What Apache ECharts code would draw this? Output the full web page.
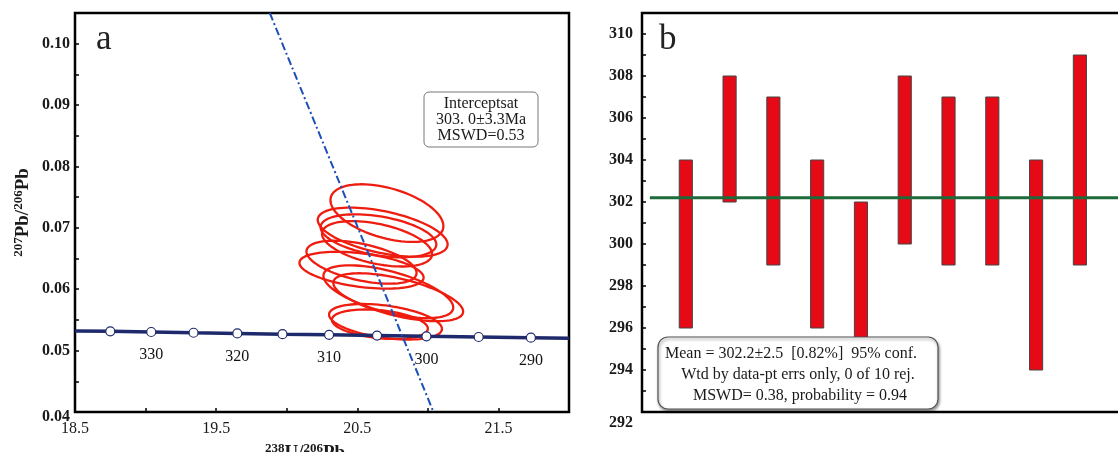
<!DOCTYPE html>
<html>
<head>
<meta charset="utf-8">
<script src="https://cdn.jsdelivr.net/npm/echarts@6/dist/echarts.min.js"></script>
<style>
  html, body { margin: 0; padding: 0; background: #fff; }
  #main { width: 1118px; height: 452px; }
</style>
</head>
<body>
<div id="main"></div>
<script>
// ---- panel a: concordia ----
var concAges = [335, 330, 325, 320, 315, 310, 305, 300, 295, 290];
var concX = [18.75, 19.04, 19.34, 19.65, 19.97, 20.30, 20.64, 20.99, 21.36, 21.73];
var concY = [0.05315, 0.05303, 0.05291, 0.05280, 0.05268, 0.05257, 0.05245, 0.05233, 0.05222, 0.05210];
var concLineX = [18.5].concat(concX, [22.0]);
var concLineY = [0.0532].concat(concY, [0.0520]);

var discX = [19.88, 21.04];
var discY = [0.105, 0.04];

// ellipses: centre, half widths, error correlation
var ellX   = [20.71, 20.68, 20.65, 20.64, 20.53, 20.53, 20.72, 20.79, 20.70, 20.66];
var ellY   = [0.0724, 0.0693, 0.0687, 0.0674, 0.0644, 0.0631, 0.0596, 0.0587, 0.0547, 0.0543];
var ellSx  = [0.40, 0.46, 0.41, 0.39, 0.39, 0.44, 0.46, 0.46, 0.40, 0.34];
var ellSy  = [0.0047, 0.0040, 0.0035, 0.0037, 0.0035, 0.0030, 0.0043, 0.0039, 0.0029, 0.0024];
var ellRho = [-0.45, -0.5, -0.4, -0.45, -0.5, -0.4, -0.6, -0.6, -0.4, -0.3];

// ---- panel b: weighted mean ----
var spotNo = [1, 2, 3, 4, 5, 6, 7, 8, 9, 10];
var ageLow  = [296, 302, 299, 296, 295, 300, 299, 299, 294, 299];
var ageHigh = [304, 308, 307, 304, 302, 308, 307, 307, 304, 309];
var meanAge = 302.2;

var serif = '"Liberation Serif", "Times New Roman", serif';
var txt = '#1a1a1a';

var chart = echarts.init(document.getElementById('main'));

function ellipseItem(params, api) {
  var cx = api.value(0), cy = api.value(1), sx = api.value(2), sy = api.value(3), r = api.value(4);
  var pts = [];
  for (var k = 0; k < 96; k++) {
    var t = k / 96 * Math.PI * 2;
    var x = cx + sx * Math.cos(t);
    var y = cy + sy * (r * Math.cos(t) + Math.sqrt(1 - r * r) * Math.sin(t));
    pts.push(api.coord([x, y]));
  }
  return {
    type: 'polygon',
    shape: { points: pts },
    style: { fill: 'none', stroke: '#ee1d10', lineWidth: 2.3 }
  };
}

function barItem(params, api) {
  var x = api.value(0);
  var top = api.coord([x, api.value(2)]);
  var bot = api.coord([x, api.value(1)]);
  var w = api.size([0.3, 0])[0];
  return {
    type: 'rect',
    shape: { x: top[0] - w / 2, y: top[1], width: w, height: bot[1] - top[1] },
    style: { fill: '#e60a17', stroke: '#444', lineWidth: 1 }
  };
}

var supRich = {
  sup: { fontSize: 13, fontFamily: serif, fontWeight: 'bold', color: txt, verticalAlign: 'top', lineHeight: 14 },
  b: { fontSize: 19, fontFamily: serif, fontWeight: 'bold', color: txt, lineHeight: 22 }
};

chart.setOption({
  animation: false,
  grid: [
    { left: 75, top: 13, width: 494, height: 399, show: true, borderColor: '#000', borderWidth: 2.5, outerBoundsMode: 'none', containLabel: false },
    { left: 642, top: 13, width: 490, height: 399, show: true, borderColor: '#000', borderWidth: 2.5, outerBoundsMode: 'none', containLabel: false }
  ],
  xAxis: [{
    gridIndex: 0, type: 'value', min: 18.5, max: 22, interval: 0.5,
    axisLine: { show: false }, splitLine: { show: false },
    axisTick: { inside: true, length: 4, lineStyle: { color: '#000', width: 1.5 } },
    axisLabel: {
      margin: 9, fontSize: 16, fontFamily: serif, color: txt,
      formatter: function (v) { return Math.round(v * 2) % 2 === 1 ? v.toFixed(1) : ''; }
    },
    name: '{sup|238}{b|U/}{sup|206}{b|Pb}', nameLocation: 'middle', nameGap: 24,
    nameTextStyle: { rich: supRich, padding: [0, 34, 0, 0] }
  }, {
    gridIndex: 1, type: 'value', min: 0, max: 11.19,
    axisLine: { show: false }, axisTick: { show: false }, axisLabel: { show: false }, splitLine: { show: false }
  }],
  yAxis: [{
    gridIndex: 0, type: 'value', min: 0.04, max: 0.105, interval: 0.005,
    axisLine: { show: false }, splitLine: { show: false },
    axisTick: { inside: true, length: 4, lineStyle: { color: '#000', width: 1.5 } },
    axisLabel: {
      margin: 5, fontSize: 16, fontWeight: 'bold', fontFamily: serif, color: txt,
      formatter: function (v) {
        if (Math.round(v * 1000) % 10 !== 0) return '';
        return Math.abs(v - 0.04) < 1e-9 ? '{low|0.04}' : v.toFixed(2);
      },
      rich: { low: { fontSize: 16, fontWeight: 'bold', fontFamily: serif, color: txt, padding: [10, 0, 0, 0] } }
    },
    name: '{sup|207}{b|Pb/}{sup|206}{b|Pb}', nameLocation: 'middle', nameRotate: 90, nameGap: 41,
    nameTextStyle: { rich: supRich }
  }, {
    gridIndex: 1, type: 'value', min: 292, max: 311, interval: 1,
    axisLine: { show: false }, splitLine: { show: false },
    axisTick: { inside: true, length: 4, lineStyle: { color: '#000', width: 1.5 } },
    axisLabel: {
      margin: 9, fontSize: 16, fontWeight: 'bold', fontFamily: serif, color: txt,
      formatter: function (v) {
        if (v % 2 !== 0 || v > 310) return '';
        return v === 292 ? '{low|292}' : String(v);
      },
      rich: { low: { fontSize: 16, fontWeight: 'bold', fontFamily: serif, color: txt, padding: [22, 0, 0, 0] } }
    }
  }],
  series: [{
    type: 'custom', xAxisIndex: 0, yAxisIndex: 0, clip: true, z: 2,
    renderItem: ellipseItem,
    data: ellX.map(function (x, i) { return [x, ellY[i], ellSx[i], ellSy[i], ellRho[i]]; })
  }, {
    type: 'line', xAxisIndex: 0, yAxisIndex: 0, z: 3, symbol: 'none', clip: true,
    lineStyle: { color: '#1f2a6c', width: 3.5 },
    data: concLineX.map(function (x, i) { return [x, concLineY[i]]; })
  }, {
    type: 'scatter', xAxisIndex: 0, yAxisIndex: 0, z: 4, symbol: 'circle', symbolSize: 9,
    itemStyle: { color: '#fff', borderColor: '#1f2a6c', borderWidth: 1.2, opacity: 1 },
    label: {
      show: true, position: 'bottom', distance: 10, fontSize: 16, fontFamily: serif, color: '#111',
      formatter: function (p) { return p.value[2] % 10 === 0 ? String(p.value[2]) : ''; }
    },
    data: concX.map(function (x, i) { return [x, concY[i], concAges[i]]; })
  }, {
    type: 'line', xAxisIndex: 0, yAxisIndex: 0, z: 5, symbol: 'none', clip: true,
    lineStyle: { color: '#1d4fb8', width: 2, type: [8, 3, 2, 3] },
    data: discX.map(function (x, i) { return [x, discY[i]]; })
  }, {
    type: 'custom', xAxisIndex: 1, yAxisIndex: 1, z: 2,
    renderItem: barItem,
    encode: { x: 0, y: [1, 2] },
    data: spotNo.map(function (n, i) { return [n, ageLow[i], ageHigh[i]]; })
  }, {
    type: 'line', xAxisIndex: 1, yAxisIndex: 1, z: 3, symbol: 'none',
    lineStyle: { color: '#1d6a3a', width: 3 },
    data: [[0.18, meanAge], [11.19, meanAge]]
  }],
  graphic: [
    { type: 'text', left: 96, top: 22, z: 10,
      style: { text: 'a', font: '35px ' + serif, fill: '#222' } },
    { type: 'text', left: 659, top: 22, z: 10,
      style: { text: 'b', font: '35px ' + serif, fill: '#222' } },
    { type: 'rect', z: 10, shape: { x: 424, y: 92, width: 114, height: 55, r: 5 },
      style: { fill: '#fff', stroke: '#777', lineWidth: 1 } },
    { type: 'text', z: 11, style: { text: 'Interceptsat', x: 481, y: 104, textAlign: 'center', textVerticalAlign: 'middle', font: '16px ' + serif, fill: txt } },
    { type: 'text', z: 11, style: { text: '303. 0\u00B13.3Ma', x: 481, y: 120, textAlign: 'center', textVerticalAlign: 'middle', font: '16px ' + serif, fill: txt } },
    { type: 'text', z: 11, style: { text: 'MSWD=0.53', x: 481, y: 136, textAlign: 'center', textVerticalAlign: 'middle', font: '16px ' + serif, fill: txt } },
    { type: 'rect', z: 10, shape: { x: 658, y: 337, width: 280, height: 72, r: 10 },
      style: { fill: '#fff', stroke: '#555', lineWidth: 1.2, shadowBlur: 3, shadowColor: 'rgba(0,0,0,0.45)', shadowOffsetX: 1, shadowOffsetY: 2 } },
    { type: 'text', z: 11, style: { text: 'Mean = 302.2\u00B12.5  [0.82%]  95% conf.', x: 665, y: 354, textAlign: 'left', textVerticalAlign: 'middle', font: '16px ' + serif, fill: txt } },
    { type: 'text', z: 11, style: { text: 'Wtd by data-pt errs only, 0 of 10 rej.', x: 798, y: 375, textAlign: 'center', textVerticalAlign: 'middle', font: '16px ' + serif, fill: txt } },
    { type: 'text', z: 11, style: { text: 'MSWD= 0.38, probability = 0.94', x: 800, y: 396, textAlign: 'center', textVerticalAlign: 'middle', font: '16px ' + serif, fill: txt } }
  ]
});
</script>
</body>
</html>
